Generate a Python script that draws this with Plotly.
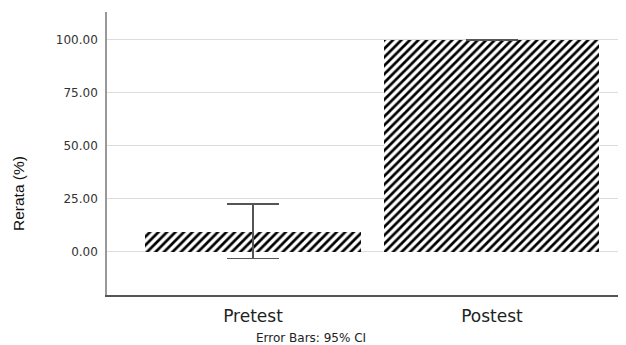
import plotly.graph_objects as go

categories = ["Pretest", "Postest"]
means = [9.6, 100.0]
ci_plus = [12.9, 0.0]
ci_minus = [12.7, 0.0]
y_ticks = [0, 25, 50, 75, 100]

# the page body has an 8px margin, so figure coords = screen coords - 8
fig = go.Figure()
fig.add_trace(go.Bar(
    x=[0, 1],
    y=means,
    width=0.9,
    marker=dict(
        color="black",
        line=dict(width=0),
        pattern=dict(shape="/", fgcolor="#000000", bgcolor="#ffffff", fgopacity=1,
                     fillmode="replace", size=6, solidity=0.45),
    ),
    error_y=dict(type="data", symmetric=False, array=ci_plus, arrayminus=ci_minus,
                 color="#555555", thickness=1.6, width=26),
    showlegend=False,
))

fig.update_layout(
    width=626, height=345,
    margin=dict(l=99, r=8, t=4, b=58),
    plot_bgcolor="white", paper_bgcolor="white",
    font=dict(family="DejaVu Sans, Liberation Sans, Arial, sans-serif", color="#222222"),
    bargap=0,
    xaxis=dict(
        range=[-0.611, 1.561],
        tickvals=[0, 1], ticktext=categories,
        tickfont=dict(size=17, color="#222222"),
        showline=True, linecolor="#555555", linewidth=1.5,
        showgrid=False, zeroline=False, ticks="",
        ticklabelstandoff=5,
    ),
    yaxis=dict(
        range=[-20.3, 113.2],
        tickvals=y_ticks, tickformat=".2f",
        tickfont=dict(size=12, color="#333333"),
        showline=True, linecolor="#999999", linewidth=1.5,
        showgrid=True, gridcolor="#dddddd", gridwidth=1.2,
        zeroline=False, ticks="",
        ticklabelstandoff=5,
    ),
    annotations=[
        dict(
            text="Error Bars: 95% CI", xref="paper", yref="paper",
            x=(303 - 99) / 519, y=-43 / 283, xanchor="center", yanchor="middle",
            showarrow=False, font=dict(size=12, color="#222222"),
        ),
        dict(
            text="Rerata (%)", xref="paper", yref="paper",
            x=-89 / 519, y=(244 - 143) / 283, xanchor="center", yanchor="middle",
            textangle=-90, showarrow=False,
            font=dict(size=15.5, color="#111111", family="Liberation Sans, Arial"),
        ),
    ],
)

fig.write_html("out.html")
